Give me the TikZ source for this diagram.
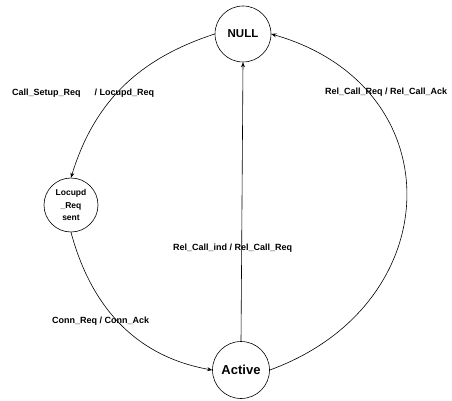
\documentclass[tikz,border=0pt]{standalone}
\usepackage{fontspec}
\setmainfont{Liberation Sans}
\usetikzlibrary{arrows.meta}
\begin{document}
\begin{tikzpicture}[x=1pt,y=-1pt,
  state/.style={circle,draw,line width=0.6pt,inner sep=0pt,font=\bfseries},
  trans/.style={line width=0.6pt,-{Stealth[length=5pt,width=4pt]}},
  lbl/.style={font=\bfseries\fontsize{9}{10}\selectfont,inner sep=0pt,anchor=west}]
\useasboundingbox (0,0) rectangle (452,401);

% states
\node[state,minimum size=56pt,font=\bfseries\fontsize{11.5}{13}\selectfont] (null) at (243,34) {NULL};
\node[state,minimum size=54pt,align=center,font=\bfseries\fontsize{8.5}{12.5}\selectfont] (loc) at (71,205) {Locupd\\\_Req\\sent};
\node[state,minimum size=57pt,font=\bfseries\fontsize{13}{15}\selectfont] (act) at (241,370) {Active};

% transitions
\draw[trans] (null.west) to[out=198,in=73] (loc.north);
\draw[trans] (loc.south) to[out=-75,in=170] (act.west);
\draw[trans] (act.east) to[out=20,in=-16,looseness=1.45] (null.east);
\draw[trans] (act.north) -- (null.south);

% transition labels
\node[lbl] (l1) at (12,93) {Call\_Setup\_Req\hspace{14pt}/ Locupd\_Req};
\node[lbl] (l2) at (325,92) {Rel\_Call\_Req / Rel\_Call\_Ack};
\node[lbl] (l3) at (173,248) {Rel\_Call\_ind / Rel\_Call\_Req};
\node[lbl] (l4) at (52,321) {Conn\_Req / Conn\_Ack};
\end{tikzpicture}
\end{document}
